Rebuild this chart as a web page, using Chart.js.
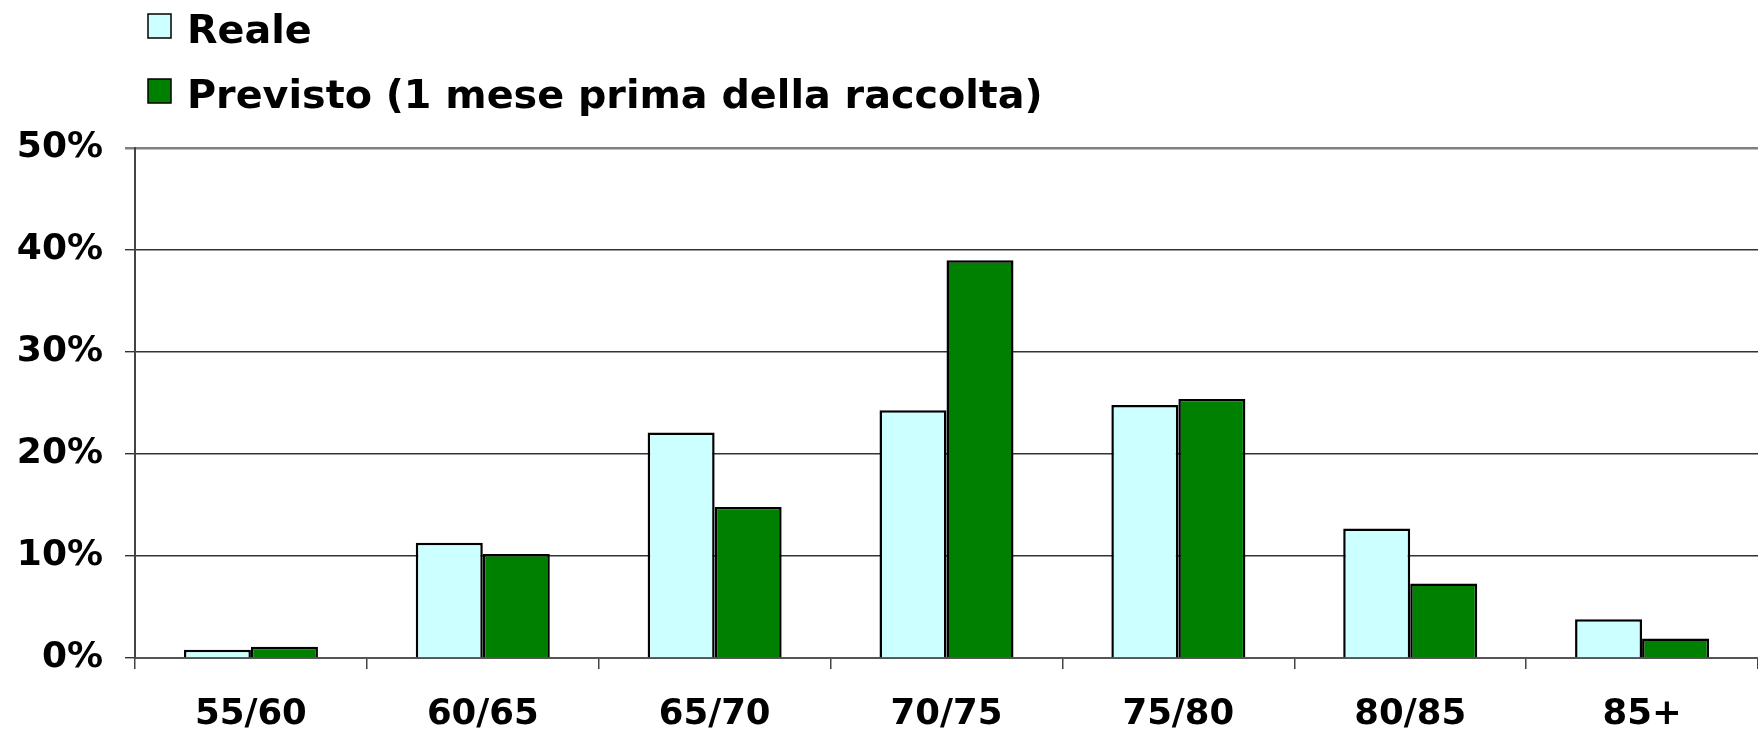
<!DOCTYPE html>
<html lang="it">
<head>
<meta charset="utf-8">
<title>Reale vs Previsto</title>
<script src="https://cdn.jsdelivr.net/npm/chart.js@4.4.1/dist/chart.umd.min.js"></script>
<style>
    html, body { margin: 0; padding: 0; background: #fff; }
    #wrap { position: relative; width: 1758px; height: 730px; }
</style>
</head>
<body>
<div id="wrap"><canvas id="chart"></canvas></div>
<script>
// Dati
const categorie = ['55/60', '60/65', '65/70', '70/75', '75/80', '80/85', '85+'];
const reale = [0.8, 11.3, 22.1, 24.3, 24.8, 12.7, 3.8];
const previsto = [1.1, 10.2, 14.8, 39.0, 25.4, 7.3, 1.9];
const tickY = [0, 10, 20, 30, 40, 50];

const fontName = '"DejaVu Sans", Verdana, sans-serif';

// Legenda su due righe, in alto a sinistra
const legendaRighe = {
    id: 'legendaRighe',
    afterDraw(chart) {
        const ctx = chart.ctx;
        ctx.save();
        ctx.font = 'bold 39.7px ' + fontName;
        ctx.textBaseline = 'alphabetic';
        ctx.textAlign = 'left';
        chart.data.datasets.forEach((ds, i) => {
            const base = 43 + i * 65;
            ctx.fillStyle = ds.backgroundColor;
            ctx.fillRect(148, base - 29, 23, 24);
            ctx.lineWidth = 1.5;
            ctx.strokeStyle = '#000';
            ctx.strokeRect(148, base - 29, 23, 24);
            ctx.fillStyle = '#000';
            ctx.fillText(ds.label, 187, base);
        });
        ctx.restore();
    }
};

const ctx = document.getElementById('chart').getContext('2d');
const chart = new Chart(ctx, {
    type: 'bar',
    data: {
        labels: categorie,
        datasets: [{
            label: 'Reale',
            data: reale,
            backgroundColor: '#CCFFFF',
            borderColor: '#000',
            borderWidth: 2.5
        }, {
            label: 'Previsto (1 mese prima della raccolta)',
            data: previsto,
            backgroundColor: '#008000',
            borderColor: '#000',
            borderWidth: 2.5
        }]
    },
    options: {
        responsive: true,
        maintainAspectRatio: false,
        animation: false,
        layout: { padding: { top: 148, left: 0, right: 0, bottom: 0 } },
        datasets: {
            bar: { barPercentage: 1, categoryPercentage: 0.578 }
        },
        plugins: {
            legend: { display: false },
            tooltip: { enabled: false }
        },
        scales: {
            x: {
                afterFit: (scale) => { scale.height = 72; },
                grid: {
                    offset: true,
                    drawOnChartArea: false,
                    drawTicks: true,
                    tickLength: 11,
                    color: '#444',
                    lineWidth: 1.5
                },
                border: { color: '#555', width: 2 },
                ticks: {
                    color: '#000',
                    padding: 24,
                    maxRotation: 0,
                    font: { family: fontName, size: 35.5, weight: 'bold' }
                }
            },
            y: {
                min: 0,
                max: 50,
                afterFit: (scale) => { scale.width = 135; },
                afterBuildTicks: (scale) => {
                    scale.ticks = tickY.map(v => ({ value: v }));
                },
                grid: {
                    drawTicks: true,
                    tickLength: 10,
                    color: (c) => c.tick && c.tick.value === 50 ? '#808080' : '#333',
                    lineWidth: (c) => c.tick && c.tick.value === 50 ? 2.5 : 1.4
                },
                border: { color: '#444', width: 2 },
                ticks: {
                    color: '#000',
                    padding: 22,
                    callback: (v) => v + '%',
                    font: { family: fontName, size: 36, weight: 'bold' }
                }
            }
        }
    },
    plugins: [legendaRighe]
});
</script>
</body>
</html>
